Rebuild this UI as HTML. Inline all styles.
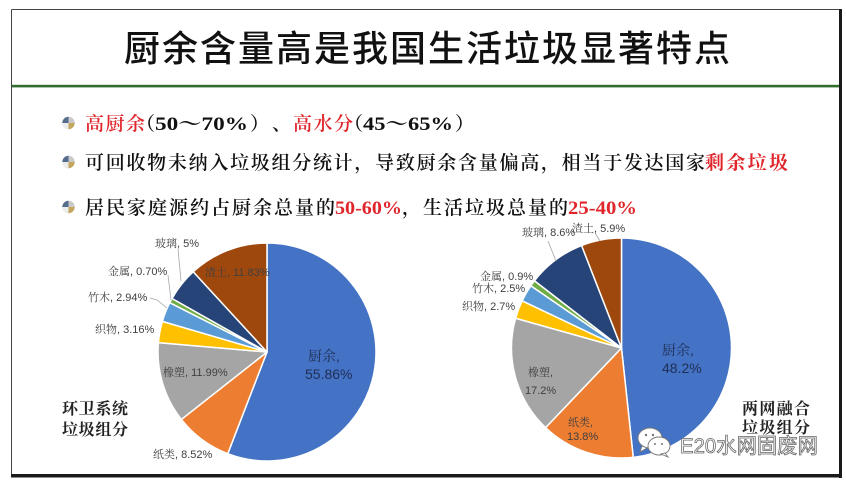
<!DOCTYPE html>
<html>
<head>
<meta charset="utf-8">
<style>
  html,body{margin:0;padding:0;background:#fff;}
  body{width:846px;height:482px;overflow:hidden;}
  svg{display:block;}
  .t{font-family:"Liberation Sans","Noto Sans CJK SC",sans-serif;}
  .s{font-family:"Liberation Serif","Noto Serif CJK SC",serif;}
  .lbl{font-family:"Liberation Sans","Noto Serif CJK SC",serif;font-size:11px;fill:#404040;}
</style>
</head>
<body>
<svg width="846" height="482" viewBox="0 0 846 482" xmlns="http://www.w3.org/2000/svg">
  <rect x="0" y="0" width="846" height="482" fill="#fff"/>
  <!-- frame -->
  <line x1="11.5" y1="9.5" x2="841" y2="9.5" stroke="#444" stroke-width="1"/>
  <line x1="11.5" y1="9.5" x2="11.5" y2="476" stroke="#444" stroke-width="1"/>
  <rect x="839" y="9" width="3" height="469" fill="#1a1a1a"/>
  <rect x="11" y="474" width="831" height="3.5" fill="#1a1a1a"/>
  <!-- green rule -->
  <rect x="12" y="84.8" width="827" height="2.6" fill="#2f6e2c"/>

  <!-- title -->
  <text class="t" x="124" y="61" font-size="36" font-weight="500" fill="#111" textLength="606" lengthAdjust="spacing">厨余含量高是我国生活垃圾显著特点</text>

  <!-- bullets -->
  <g id="b1">
    <circle cx="68.5" cy="123" r="6.2" fill="#d8d8d8"/>
    <path d="M68.5,123 L62.3,123 A6.2,6.2 0 0 1 68.5,116.8 Z" fill="#566c8c"/>
    <path d="M68.5,123 L74.7,123 A6.2,6.2 0 0 1 68.5,129.2 Z" fill="#c4a65e"/>
    <path d="M68.5,123 L68.5,116.8 A6.2,6.2 0 0 1 74.7,123 Z" fill="#c9c9c9"/>
    <path d="M68.5,123 L68.5,129.2 A6.2,6.2 0 0 1 62.3,123 Z" fill="#ececec"/>
  </g>
  <use href="#b1" transform="translate(0,39)"/>
  <use href="#b1" transform="translate(0,84)"/>

  <!-- line 1 -->
  <g class="s" font-size="19" font-weight="600">
    <text x="85" y="130" fill="#e0262c" textLength="60" lengthAdjust="spacing">高厨余</text>
    <text x="155" y="130" fill="#111" text-anchor="end">（</text>
    <text x="155" y="130" fill="#111" font-weight="bold" textLength="93" lengthAdjust="spacingAndGlyphs">50～70%</text>
    <text x="250" y="130" fill="#111">）</text>
    <text x="272" y="130" fill="#111">、</text>
    <text x="293" y="130" fill="#e0262c" textLength="60" lengthAdjust="spacing">高水分</text>
    <text x="363" y="130" fill="#111" text-anchor="end">（</text>
    <text x="363" y="130" fill="#111" font-weight="bold" textLength="90" lengthAdjust="spacingAndGlyphs">45～65%</text>
    <text x="455" y="130" fill="#111">）</text>

    <!-- line 2 -->
    <text x="85" y="169" fill="#111" textLength="620" lengthAdjust="spacing">可回收物未纳入垃圾组分统计，导致厨余含量偏高，相当于发达国家</text>
    <text x="705" y="169" fill="#e0262c" font-weight="bold" textLength="83" lengthAdjust="spacing">剩余垃圾</text>

    <!-- line 3 -->
    <text x="85" y="214" fill="#111" textLength="250" lengthAdjust="spacing">居民家庭源约占厨余总量的</text>
    <text x="335" y="214" fill="#e0262c" font-weight="bold" textLength="67" lengthAdjust="spacingAndGlyphs">50-60%</text>
    <text x="402" y="214" fill="#111" textLength="166" lengthAdjust="spacing">，生活垃圾总量的</text>
    <text x="568" y="214" fill="#e0262c" font-weight="bold" textLength="69" lengthAdjust="spacingAndGlyphs">25-40%</text>
  </g>

  <!-- left pie -->
  <g stroke="#fff" stroke-width="1.5" stroke-linejoin="round">
    <path d="M267,352 L267,243 A109,109 0 1 1 227.76,453.70 Z" fill="#4472c4"/>
    <path d="M267,352 L227.76,453.70 A109,109 0 0 1 181.37,419.44 Z" fill="#ed7d31"/>
    <path d="M267,352 L181.37,419.44 A109,109 0 0 1 158.40,342.64 Z" fill="#a5a5a5"/>
    <path d="M267,352 L158.40,342.64 A109,109 0 0 1 162.38,321.39 Z" fill="#ffc000"/>
    <path d="M267,352 L162.38,321.39 A109,109 0 0 1 169.78,302.70 Z" fill="#5b9bd5"/>
    <path d="M267,352 L169.78,302.70 A109,109 0 0 1 172.05,298.47 Z" fill="#70ad47"/>
    <path d="M267,352 L172.05,298.47 A109,109 0 0 1 193.23,271.75 Z" fill="#264478"/>
    <path d="M267,352 L193.23,271.75 A109,109 0 0 1 267,243 Z" fill="#9e480e"/>
  </g>
  <!-- left leaders -->
  <g stroke="#a6a6a6" stroke-width="0.8" fill="none">
    <line x1="178" y1="249" x2="181" y2="281"/>
    <line x1="168" y1="275" x2="171" y2="300"/>
    <polyline points="150,298 157,300 167,308"/>
  </g>
  <!-- left labels -->
  <text class="lbl" x="155" y="247">玻璃, 5%</text>
  <text class="lbl" x="205" y="276" fill="#333">渣土, 11.83%</text>
  <text class="lbl" x="108" y="275">金属, 0.70%</text>
  <text class="lbl" x="88" y="301">竹木, 2.94%</text>
  <text class="lbl" x="95" y="333">织物, 3.16%</text>
  <text class="lbl" x="163" y="376">橡塑, 11.99%</text>
  <text class="lbl" x="153" y="458">纸类, 8.52%</text>
  <text x="308" y="361" font-family="Liberation Sans,'Noto Serif CJK SC',serif" font-size="14" fill="#1f2f55">厨余,</text>
  <text x="305" y="379" font-family="Liberation Sans,'Noto Serif CJK SC',serif" font-size="14" fill="#1f2f55">55.86%</text>
  <text x="62" y="414" class="s" font-size="16" font-weight="bold" fill="#222" textLength="66" lengthAdjust="spacing">环卫系统</text>
  <text x="62" y="435" class="s" font-size="16" font-weight="bold" fill="#222" textLength="66" lengthAdjust="spacing">垃圾组分</text>

  <!-- right pie -->
  <g stroke="#fff" stroke-width="1.5" stroke-linejoin="round">
    <path d="M621.5,348 L621.5,238 A110,110 0 0 1 633.25,457.37 Z" fill="#4472c4"/>
    <path d="M621.5,348 L633.25,457.37 A110,110 0 0 1 545.59,427.61 Z" fill="#ed7d31"/>
    <path d="M621.5,348 L545.59,427.61 A110,110 0 0 1 515.60,318.26 Z" fill="#a5a5a5"/>
    <path d="M621.5,348 L515.60,318.26 A110,110 0 0 1 522.16,300.77 Z" fill="#ffc000"/>
    <path d="M621.5,348 L522.16,300.77 A110,110 0 0 1 530.79,285.77 Z" fill="#5b9bd5"/>
    <path d="M621.5,348 L530.79,285.77 A110,110 0 0 1 534.47,280.73 Z" fill="#70ad47"/>
    <path d="M621.5,348 L534.47,280.73 A110,110 0 0 1 581.58,245.50 Z" fill="#264478"/>
    <path d="M621.5,348 L581.58,245.50 A110,110 0 0 1 621.5,238 Z" fill="#9e480e"/>
  </g>
  <g stroke="#a6a6a6" stroke-width="0.8" fill="none">
    <line x1="548" y1="241" x2="556" y2="261"/>
    <line x1="595" y1="233" x2="600" y2="241"/>
  </g>
  <text class="lbl" x="522" y="236">玻璃, 8.6%</text>
  <text class="lbl" x="572" y="232">渣土, 5.9%</text>
  <text class="lbl" x="480" y="280">金属, 0.9%</text>
  <text class="lbl" x="472" y="292">竹木, 2.5%</text>
  <text class="lbl" x="462" y="310">织物, 2.7%</text>
  <text class="lbl" x="528" y="376" fill="#333">橡塑,</text>
  <text class="lbl" x="525" y="394" fill="#333">17.2%</text>
  <text class="lbl" x="568" y="426" fill="#3a2a1c">纸类,</text>
  <text class="lbl" x="567" y="440" fill="#3a2a1c">13.8%</text>
  <text x="662" y="355" font-family="Liberation Sans,'Noto Serif CJK SC',serif" font-size="14" fill="#1f2f55">厨余,</text>
  <text x="662" y="373" font-family="Liberation Sans,'Noto Serif CJK SC',serif" font-size="14" fill="#1f2f55">48.2%</text>
  <text x="742" y="414" class="s" font-size="16" font-weight="bold" fill="#222" textLength="68" lengthAdjust="spacing">两网融合</text>
  <text x="742" y="433" class="s" font-size="16" font-weight="bold" fill="#222" textLength="68" lengthAdjust="spacing">垃圾组分</text>

  <!-- watermark -->
  <g stroke="#777" stroke-width="0.9" fill="#fff">
    <ellipse cx="650" cy="438" rx="12" ry="10"/>
    <path d="M642,446 L640,452 L647,448 Z"/>
    <ellipse cx="659" cy="446" rx="11" ry="9"/>
    <path d="M665,453 L668,457 L661,454 Z"/>
  </g>
  <g fill="#777">
    <circle cx="646" cy="435" r="1.2"/><circle cx="653" cy="435" r="1.2"/>
    <circle cx="655" cy="444" r="1"/><circle cx="662" cy="444" r="1"/>
  </g>
  <text x="680" y="453" font-family="Liberation Sans,'Noto Sans CJK SC',sans-serif" font-size="21" fill="#fff" stroke="#666" stroke-width="0.8" textLength="138" lengthAdjust="spacingAndGlyphs">E20水网固废网</text>
</svg>
</body>
</html>
